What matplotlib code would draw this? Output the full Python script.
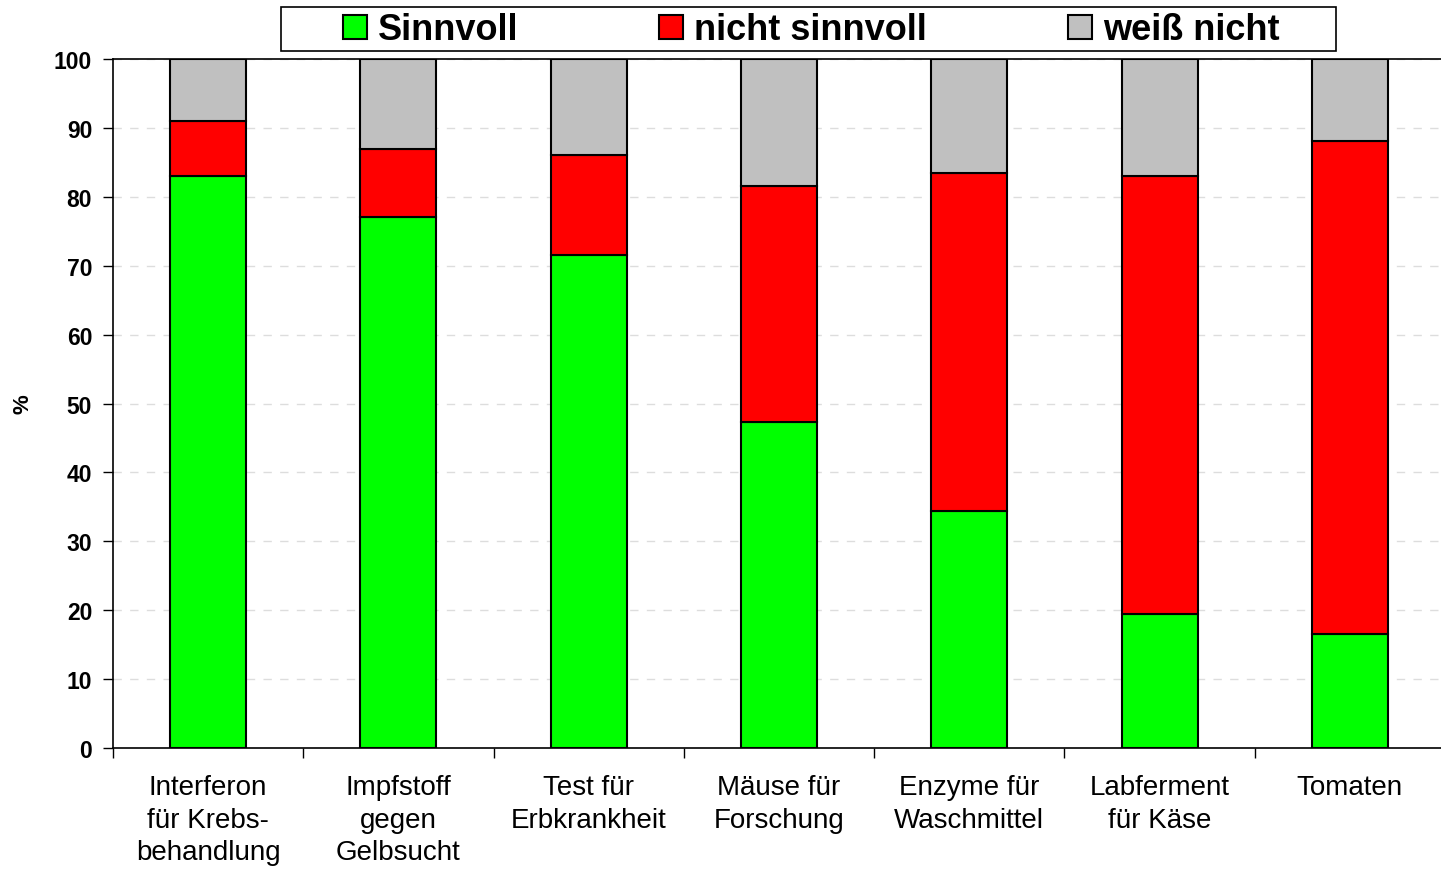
import numpy as np
import matplotlib
matplotlib.use('Agg')
import matplotlib.pyplot as plt
from matplotlib.patches import Rectangle

plt.rcParams['font.family'] = ['Liberation Sans', 'DejaVu Sans']

# Answers per application (percent)
categories = ['Interferon\nfür Krebs-\nbehandlung', 'Impfstoff\ngegen\nGelbsucht',
              'Test für\nErbkrankheit', 'Mäuse für\nForschung', 'Enzyme für\nWaschmittel',
              'Labferment\nfür Käse', 'Tomaten']
sinnvoll = [83.0, 77.0, 71.5, 47.3, 34.4, 19.4, 16.6]
nicht_sinnvoll = [8.0, 10.0, 14.6, 34.3, 49.0, 63.6, 71.5]
weiss_nicht = [9.0, 13.0, 13.9, 18.4, 16.6, 17.0, 11.9]

series_names = ['Sinnvoll', 'nicht sinnvoll', 'weiß nicht']
colors = ['#00ff00', '#ff0000', '#c0c0c0']
yticks = list(range(0, 101, 10))

fig = plt.figure(figsize=(14.41, 8.70), dpi=100)
ax = fig.add_axes([113/1441, 121/870, 1332/1441, 689/870])

x = np.arange(len(categories))
bottom = np.zeros(len(categories))
handles = []
for vals, name, col in zip([sinnvoll, nicht_sinnvoll, weiss_nicht], series_names, colors):
    b = ax.bar(x, vals, width=0.4, bottom=bottom, color=col, edgecolor='black',
               linewidth=1.5, label=name, zorder=3)
    handles.append(b)
    bottom += np.array(vals)

ax.set_xlim(-0.5, len(categories) - 0.5)
ax.set_ylim(0, 100)
ax.set_yticks(yticks)
ax.set_yticklabels([str(t) for t in yticks], fontsize=16.5, fontweight='bold')
ax.yaxis.grid(True, color='#dddddd', linestyle=(0, (6, 6)), linewidth=1, zorder=0)

ax.set_xticks(x)
ax.set_xticklabels(categories, fontsize=20, linespacing=1.32)
ax.set_xticks(np.arange(-0.5, len(categories)), minor=True)
ax.tick_params(axis='x', which='major', length=0, pad=19)
ax.tick_params(axis='x', which='minor', length=7, width=1, direction='out')
ax.tick_params(axis='y', length=7, width=1, direction='out', pad=8)

ax.spines['right'].set_visible(False)
for s in ['left', 'bottom', 'top']:
    ax.spines[s].set_linewidth(1.2)

ax.set_ylabel('%', fontsize=16, fontweight='bold')
ax.yaxis.set_label_coords(-0.060, 0.5)

# legend box across the top
fig.patches.append(Rectangle((281/1441, 1 - 52/870), 1055/1441, 44/870,
                             transform=fig.transFigure, facecolor='white',
                             edgecolor='black', linewidth=1.2))
leg = fig.legend(handles=handles, labels=series_names, loc='center',
                 bbox_to_anchor=(811/1441, 1 - 31/870), ncol=3, frameon=False,
                 prop={'size': 26, 'weight': 'bold'}, handlelength=0.67,
                 handleheight=0.67, handletextpad=0.3, columnspacing=3.9)
for h in leg.legend_handles:
    h.set_edgecolor('black')
    h.set_linewidth(1.5)

fig.savefig('out.png', dpi=100)
